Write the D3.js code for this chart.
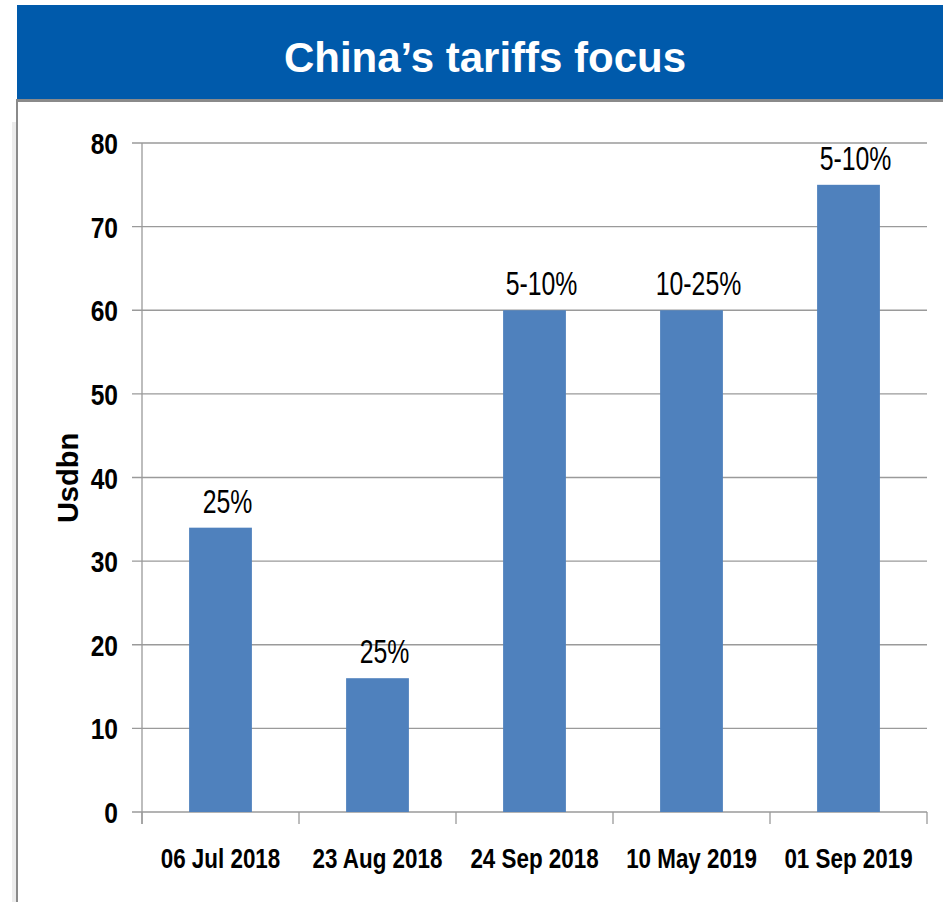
<!DOCTYPE html>
<html>
<head>
<meta charset="utf-8">
<script src="https://cdn.jsdelivr.net/npm/d3@7"></script>
<style>
  html, body { margin: 0; padding: 0; background: #ffffff; }
  svg { display: block; }
</style>
</head>
<body>
<div id="chart"></div>
<script>
// Tariff tranches announced by China (USD bn of US goods covered)
const categories = ["06 Jul 2018", "23 Aug 2018", "24 Sep 2018", "10 May 2019", "01 Sep 2019"];
const values = [34, 16, 60, 60, 75];
const rateLabels = ["25%", "25%", "5-10%", "10-25%", "5-10%"];
const yTicks = [0, 10, 20, 30, 40, 50, 60, 70, 80];
const titleText = "China\u2019s tariffs focus";
const yAxisTitle = "Usdbn";

const W = 943, H = 902;
const plot = { left: 142, right: 927, top: 143, bottom: 812 };

const svg = d3.select("#chart").append("svg")
  .attr("width", W).attr("height", H);

// Panel frame: soft shadow strip, left rule, and rule under the header
svg.append("rect").attr("x", 12).attr("y", 122).attr("width", 4).attr("height", H - 122)
  .attr("fill", "#ececec");
svg.append("rect").attr("x", 16).attr("y", 99).attr("width", 2).attr("height", H - 99)
  .attr("fill", "#8a8a8a");
svg.append("rect").attr("x", 16).attr("y", 99).attr("width", W - 16).attr("height", 3)
  .attr("fill", "#8a8a8a");

// Header banner
svg.append("rect").attr("x", 17).attr("y", 5).attr("width", W - 17).attr("height", 94)
  .attr("fill", "#005aab");
svg.append("text")
  .attr("x", 485).attr("y", 72)
  .attr("text-anchor", "middle")
  .attr("fill", "#ffffff")
  .style("font-family", "'Liberation Sans', Arial, sans-serif")
  .style("font-weight", "bold")
  .style("font-size", "42px")
  .text(titleText);

// Scales
const x = d3.scaleBand()
  .domain(categories)
  .range([plot.left, plot.right])
  .paddingInner(0.6)
  .paddingOuter(0.3);

const y = d3.scaleLinear()
  .domain([0, 80])
  .range([plot.bottom, plot.top]);

const axisColor = "#9a9a9a";

// Horizontal gridlines (extend left past the axis as tick marks)
svg.append("g").selectAll("line")
  .data(yTicks)
  .join("line")
  .attr("x1", plot.left - 10).attr("x2", plot.right)
  .attr("y1", d => y(d)).attr("y2", d => y(d))
  .attr("stroke", axisColor).attr("stroke-width", 1.3);

// Vertical axis line
svg.append("line")
  .attr("x1", plot.left).attr("x2", plot.left)
  .attr("y1", y(80)).attr("y2", y(0) + 12)
  .attr("stroke", axisColor).attr("stroke-width", 1.3);

// Category boundary ticks under the baseline
const boundaries = d3.range(categories.length + 1).map(i => plot.left + i * x.step());
svg.append("g").selectAll("line")
  .data(boundaries)
  .join("line")
  .attr("x1", d => d).attr("x2", d => d)
  .attr("y1", y(0)).attr("y2", y(0) + 12)
  .attr("stroke", axisColor).attr("stroke-width", 1.3);

// Y tick labels
svg.append("g").selectAll("text")
  .data(yTicks)
  .join("text")
  .attr("transform", d => `translate(118,${y(d) + 11}) scale(0.82,1)`)
  .attr("text-anchor", "end")
  .attr("fill", "#000")
  .style("font-family", "'Liberation Sans', Arial, sans-serif")
  .style("font-weight", "bold")
  .style("font-size", "30px")
  .text(d => d);

// Y axis title
svg.append("text")
  .attr("transform", "translate(78,478) rotate(-90)")
  .attr("text-anchor", "middle")
  .attr("fill", "#000")
  .style("font-family", "'Liberation Sans', Arial, sans-serif")
  .style("font-weight", "bold")
  .style("font-size", "29px")
  .text(yAxisTitle);

// Bars
svg.append("g").selectAll("rect")
  .data(values)
  .join("rect")
  .attr("x", (d, i) => x(categories[i]))
  .attr("y", d => y(d))
  .attr("width", x.bandwidth())
  .attr("height", d => y(0) - y(d))
  .attr("fill", "#4f81bd");

// Tariff rate labels above bars
svg.append("g").selectAll("text")
  .data(values)
  .join("text")
  .attr("transform", (d, i) =>
    `translate(${x(categories[i]) + x.bandwidth() / 2 + 7},${y(d) - 15}) scale(0.73,1)`)
  .attr("text-anchor", "middle")
  .attr("fill", "#000")
  .style("font-family", "'Liberation Sans', Arial, sans-serif")
  .style("font-size", "34px")
  .text((d, i) => rateLabels[i]);

// X category labels
svg.append("g").selectAll("text")
  .data(categories)
  .join("text")
  .attr("transform", d => `translate(${x(d) + x.bandwidth() / 2},868) scale(0.8,1)`)
  .attr("text-anchor", "middle")
  .attr("fill", "#000")
  .style("font-family", "'Liberation Sans', Arial, sans-serif")
  .style("font-weight", "bold")
  .style("font-size", "28px")
  .text(d => d);
</script>
</body>
</html>
